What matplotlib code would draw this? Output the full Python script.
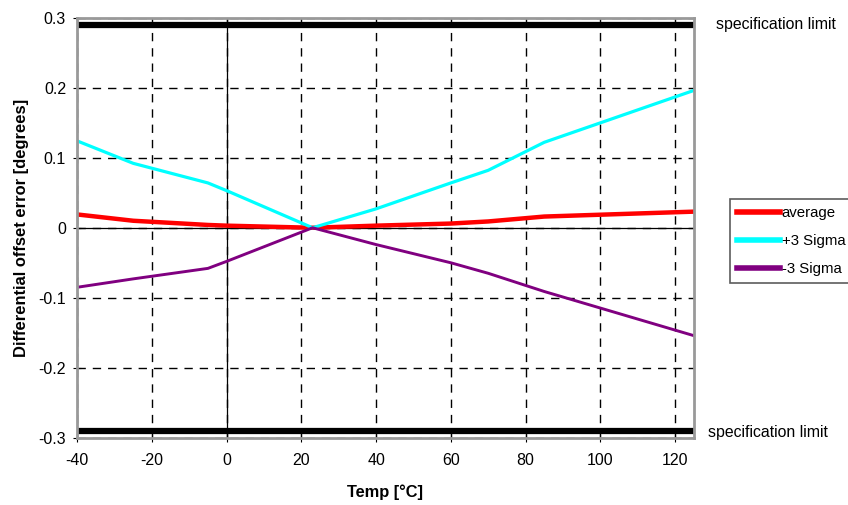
import matplotlib.pyplot as plt
from matplotlib.lines import Line2D

plt.rcParams['font.family'] = ['Liberation Sans', 'DejaVu Sans']
plt.rcParams['axes.unicode_minus'] = False

temp = [-40, -25, -5, 0, 23, 40, 60, 70, 85, 125]
average = [0.019, 0.010, 0.004, 0.003, 0.0, 0.003, 0.006, 0.009, 0.016, 0.023]
plus3 = [0.124, 0.092, 0.064, 0.053, 0.0, 0.027, 0.064, 0.082, 0.122, 0.196]
minus3 = [-0.085, -0.073, -0.058, -0.048, 0.0, -0.024, -0.050, -0.065, -0.091, -0.154]
spec_limit = 0.29

fig = plt.figure(figsize=(8.48, 5.05), dpi=100)
ax = fig.add_axes([0.091, 0.133, 0.727, 0.832])

ax.set_xlim(-40, 125)
ax.set_ylim(-0.3, 0.3)
ax.set_xticks(range(-40, 121, 20))
ax.set_yticks([-0.3, -0.2, -0.1, 0, 0.1, 0.2, 0.3])
ax.set_yticklabels(['-0.3', '-0.2', '-0.1', '0', '0.1', '0.2', '0.3'])
ax.grid(True, color='black', linestyle=(0, (6, 5)), linewidth=1)
ax.axhline(0, color='black', lw=0.9)
ax.axvline(0, color='black', lw=0.9)
ax.tick_params(direction='inout', length=6, colors='black', labelsize=11.5)
ax.tick_params(axis='x', pad=8)
ax.tick_params(axis='y', pad=5)
for s in ax.spines.values():
    s.set_color('#999999')
    s.set_linewidth(2)
    s.set_zorder(5)

ax.axhline(spec_limit, color='black', lw=4.5)
ax.axhline(-spec_limit, color='black', lw=4.5)

l1, = ax.plot(temp, average, color='#ff0000', lw=3.2, label='average')
l2, = ax.plot(temp, plus3, color='#00ffff', lw=2.3, label='+3 Sigma')
l3, = ax.plot(temp, minus3, color='#800080', lw=2.1, label='-3 Sigma')

fig.text(716 / 848, 1 - 24 / 505, 'specification limit', fontsize=11.4, va='center')
fig.text(708 / 848, 1 - 432 / 505, 'specification limit', fontsize=11.4, va='center')

ax.set_xlabel('Temp [°C]', fontweight='bold', fontsize=11.8, labelpad=12)
ax.set_ylabel('Differential offset error [degrees]', fontweight='bold', fontsize=11.9, labelpad=7)

handles = [Line2D([], [], color='#ff0000', lw=4),
           Line2D([], [], color='#00ffff', lw=4),
           Line2D([], [], color='#800080', lw=4)]
leg = fig.legend(handles, ['average', '+3 Sigma', '-3 Sigma'],
                 loc='upper left', bbox_to_anchor=(730 / 848, 1 - 199 / 505),
                 frameon=True, fancybox=False, fontsize=10.8, handlelength=2.9,
                 handletextpad=0.1, borderpad=0.45, labelspacing=0.95, borderaxespad=0)
leg.get_frame().set_edgecolor('#333333')
leg.get_frame().set_linewidth(1.2)

fig.savefig('out.png', dpi=100)
